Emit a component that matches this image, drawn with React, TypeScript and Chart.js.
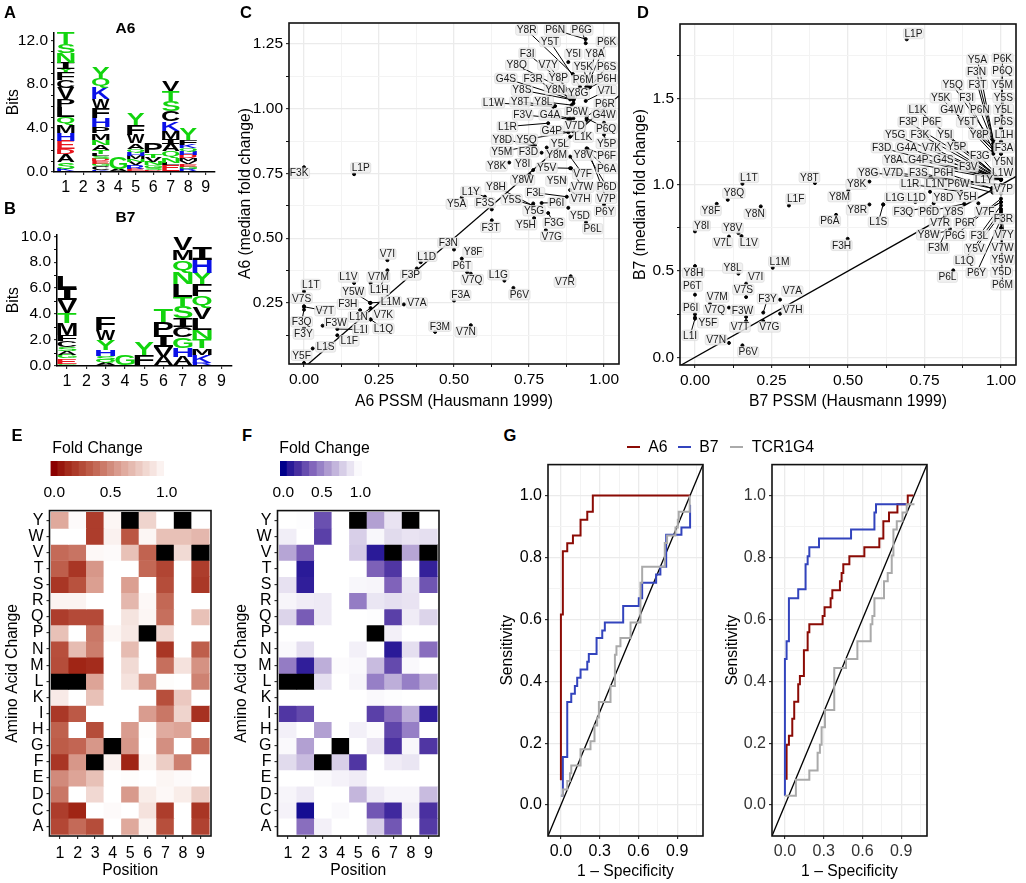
import React, { useEffect, useRef } from "react";
import { Chart, registerables } from "chart.js";

Chart.register(...registerables);
Chart.defaults.font.family = "'Liberation Sans', Arial, sans-serif";
Chart.defaults.color = "#000";

// ---------- data ----------
const positions = [1, 2, 3, 4, 5, 6, 7, 8, 9];
const aminoRows = ["A", "C", "D", "E", "F", "G", "H", "I", "K", "L", "M", "N", "P", "Q", "R", "S", "T", "V", "W", "Y"];

// logo stacks, bottom to top, one entry per position
const logoLettersA = ["KSADEHMQLPVCFYINST", "", "KCGEDSLTANMPHFWKQY", "AG", "ERVNMHQAWFY", "DSGNVTP", "ELNQAIMKCSTV", "RGEVMDHQKFY", ""];
const logoBitsA = [
  [0.3, 0.6, 0.75, 0.45, 0.75, 0.7, 0.75, 0.7, 0.9, 0.75, 1.0, 0.75, 0.7, 0.3, 0.55, 0.9, 0.8, 1.0],
  [],
  [0.2, 0.3, 0.27, 0.2, 0.25, 0.25, 0.2, 0.3, 0.5, 0.45, 0.6, 0.55, 0.85, 0.9, 0.8, 1.0, 0.9, 1.05],
  [0.3, 1.05],
  [0.3, 0.3, 0.3, 0.25, 0.3, 0.35, 0.3, 0.5, 0.75, 0.95, 1.0],
  [0.2, 0.2, 0.2, 0.3, 0.4, 0.4, 0.9],
  [0.6, 0.25, 0.5, 0.55, 0.65, 0.5, 0.7, 0.85, 0.95, 0.95, 0.9, 0.95],
  [0.25, 0.25, 0.25, 0.25, 0.25, 0.3, 0.3, 0.3, 0.3, 0.5, 1.0],
  [],
];
const logoLettersB = ["GEGASCFMTVIL", "", "AQSHYWF", "G", "FY", "AVIPT", "AHGCISTLNQMV", "RKMTNLVQFYHI", ""];
const logoBitsB = [
  [0.15, 0.43, 0.25, 0.33, 0.3, 0.46, 0.5, 0.9, 0.76, 1.02, 0.9, 0.9],
  [],
  [0.25, 0.2, 0.3, 0.46, 0.76, 0.8, 0.97],
  [0.84],
  [0.85, 1.0],
  [0.7, 0.76, 0.9, 1.0, 1.0],
  [0.7, 0.7, 0.8, 0.8, 0.7, 0.95, 0.7, 1.0, 0.85, 0.95, 0.8, 1.0],
  [0.25, 0.6, 0.5, 0.7, 0.7, 0.85, 0.9, 0.9, 0.9, 0.85, 1.05, 0.95],
  [],
];

const a6Points: [string, number, number][] = [
  ["Y8R", 0.896, 1.134], ["P6N", 0.939, 1.269], ["P6G", 0.939, 1.253], ["Y5T", 0.92, 1.085], ["P6K", 0.942, 1.085],
  ["F3I", 0.853, 1.111], ["Y5I", 0.881, 1.18], ["Y8A", 0.942, 1.085], ["Y8Q", 0.87, 1.072], ["V7Y", 0.898, 1.047],
  ["Y5K", 0.948, 1.083], ["P6S", 0.953, 1.083], ["G4S", 0.898, 1.034], ["F3R", 0.881, 1.047], ["Y8P", 0.887, 1.047],
  ["P6M", 0.942, 1.083], ["P6H", 0.948, 1.079], ["Y8S", 0.887, 1.036], ["Y8N", 0.898, 1.034], ["Y8G", 0.898, 1.021],
  ["V7L", 0.939, 1.03], ["L1W", 0.831, 1.008], ["Y8T", 0.837, 1.01], ["Y8L", 0.892, 1.014], ["P6R", 0.942, 0.97],
  ["P6W", 0.898, 0.963], ["F3V", 0.881, 0.96], ["G4A", 0.887, 0.963], ["G4W", 1, 0.946], ["L1R", 0.814, 0.944],
  ["V7D", 0.887, 0.957], ["P6Q", 0.942, 0.963], ["G4P", 0.881, 0.909], ["Y5Q", 0.898, 0.912], ["Y8D", 0.764, 0.86],
  ["L1K", 0.942, 0.956], ["Y5P", 1, 0.9], ["Y5L", 0.887, 0.892], ["Y5M", 0.77, 0.86], ["F3D", 0.792, 0.83],
  ["Y8M", 0.809, 0.85], ["Y8V", 0.942, 0.847], ["P6F", 0.945, 0.845], ["Y8K", 0.684, 0.792], ["Y8I", 0.764, 0.763],
  ["Y5V", 0.887, 0.77], ["P6A", 0.942, 0.84], ["V7F", 0.887, 0.815], ["F3K", 0, 0.774], ["L1P", 0.167, 0.747],
  ["Y8W", 0.753, 0.744], ["Y5N", 0.87, 0.727], ["Y8H", 0.764, 0.625], ["V7W", 0.89, 0.77], ["P6D", 0.942, 0.83],
  ["L1Y", 0.603, 0.66], ["F3L", 0.876, 0.66], ["Y5S", 0.764, 0.627], ["V7H", 0.887, 0.686], ["V7P", 0.95, 0.83],
  ["F3S", 0.626, 0.611], ["Y5A", 0.526, 0.657], ["P6I", 0.792, 0.636], ["Y5G", 0.764, 0.634], ["P6Y", 1, 0.63],
  ["Y5D", 0.881, 0.617], ["F3G", 0.814, 0.597], ["Y5H", 0.767, 0.578], ["F3T", 0.626, 0.569], ["P6L", 0.94, 0.561],
  ["V7G", 0.806, 0.531], ["F3N", 0.5, 0.456], ["Y8F", 0.526, 0.421], ["V7I", 0.278, 0.415], ["L1D", 0.389, 0.407],
  ["P6T", 0.544, 0.368], ["F3P", 0.376, 0.383], ["V7M", 0.222, 0.327], ["V7Q", 0.556, 0.363], ["L1V", 0.167, 0.327],
  ["L1G", 0.668, 0.336], ["V7R", 0.889, 0.353], ["L1T", 0, 0.294], ["Y5W", 0.222, 0.25], ["L1H", 0.278, 0.376],
  ["V7S", 0, 0.237], ["F3A", 0.5, 0.259], ["P6V", 0.698, 0.308], ["F3H", 0.187, 0.222], ["L1M", 0.22, 0.25],
  ["V7A", 0.333, 0.244], ["V7T", 0, 0.235], ["L1N", 0.222, 0.23], ["V7K", 0.222, 0.186], ["F3Q", 0, 0.224],
  ["F3W", 0.062, 0.162], ["L1I", 0.111, 0.149], ["L1Q", 0.222, 0.186], ["F3M", 0.437, 0.138], ["V7N", 0.556, 0.164],
  ["F3Y", 0, 0.153], ["L1F", 0.111, 0.125], ["L1S", 0.029, 0.074], ["Y5F", 0, 0.018],
];
const a6LabelSpots: Record<string, [number, number]> = {
  Y8R: [0.742, 1.304], P6N: [0.837, 1.304], P6G: [0.926, 1.304], Y5T: [0.82, 1.259], P6K: [1.009, 1.259],
  F3I: [0.744, 1.214], Y5I: [0.898, 1.211], Y8A: [0.97, 1.211], Y8Q: [0.709, 1.169], V7Y: [0.814, 1.169],
  Y5K: [0.931, 1.162], P6S: [1.009, 1.162], G4S: [0.673, 1.117], F3R: [0.764, 1.117], Y8P: [0.848, 1.121],
  P6M: [0.931, 1.111], P6H: [1.009, 1.114], Y8S: [0.726, 1.072], Y8N: [0.837, 1.075], Y8G: [0.914, 1.06],
  V7L: [1.009, 1.07], L1W: [0.631, 1.023], Y8T: [0.72, 1.027], Y8L: [0.798, 1.027], P6R: [1.003, 1.018],
  P6W: [0.909, 0.989], F3V: [0.729, 0.976], G4A: [0.82, 0.976], G4W: [1.0, 0.976], L1R: [0.678, 0.931],
  V7D: [0.903, 0.933], P6Q: [1.007, 0.924], G4P: [0.826, 0.915], Y8D: [0.661, 0.882], Y5Q: [0.742, 0.882],
  L1K: [0.931, 0.89], Y5P: [1.009, 0.866], Y5L: [0.853, 0.866], Y5M: [0.659, 0.834], F3D: [0.748, 0.834],
  Y8M: [0.842, 0.821], Y8V: [0.931, 0.821], P6F: [1.009, 0.818], Y8K: [0.642, 0.779], Y8I: [0.729, 0.787],
  Y5V: [0.809, 0.772], P6A: [1.009, 0.77], V7F: [0.929, 0.748], F3K: [-0.016, 0.751], L1P: [0.189, 0.772],
  Y8W: [0.729, 0.725], Y5N: [0.842, 0.721], Y8H: [0.64, 0.699], V7W: [0.927, 0.697], P6D: [1.009, 0.699],
  L1Y: [0.556, 0.68], F3L: [0.77, 0.676], Y5S: [0.692, 0.65], V7H: [0.922, 0.652], V7P: [1.007, 0.654],
  F3S: [0.603, 0.637], Y5A: [0.509, 0.632], P6I: [0.842, 0.637], Y5G: [0.767, 0.606], P6Y: [1.003, 0.604],
  Y5D: [0.92, 0.587], F3G: [0.833, 0.559], Y5H: [0.74, 0.552], F3T: [0.622, 0.542], P6L: [0.962, 0.536],
  V7G: [0.826, 0.507], F3N: [0.481, 0.482], Y8F: [0.564, 0.446], V7I: [0.278, 0.439], L1D: [0.409, 0.43],
  P6T: [0.526, 0.392], F3P: [0.356, 0.358], V7M: [0.248, 0.35], V7Q: [0.561, 0.34], L1V: [0.148, 0.35],
  L1G: [0.648, 0.359], V7R: [0.87, 0.33], L1T: [0.023, 0.321], Y5W: [0.164, 0.292], L1H: [0.251, 0.301],
  V7S: [-0.008, 0.268], F3A: [0.522, 0.28], P6V: [0.718, 0.282], F3H: [0.146, 0.245], L1M: [0.289, 0.255],
  V7A: [0.376, 0.25], V7T: [0.07, 0.22], L1N: [0.182, 0.196], V7K: [0.265, 0.205], F3Q: [-0.008, 0.177],
  F3W: [0.107, 0.173], L1I: [0.189, 0.147], L1Q: [0.265, 0.151], F3M: [0.453, 0.16], V7N: [0.54, 0.138],
  F3Y: [-0.002, 0.13], L1F: [0.151, 0.103], L1S: [0.072, 0.08], Y5F: [-0.008, 0.048],
};

const b7Points: [string, number, number][] = [
  ["L1P", 0.692, 1.844], ["L1T", 0.155, 1.006], ["Y8T", 0.392, 1.01], ["Y8K", 0.57, 1.019], ["Y8M", 0.501, 0.967],
  ["Y8Q", 0.107, 0.913], ["Y8F", 0.071, 0.89], ["L1F", 0.307, 0.88], ["Y8N", 0.215, 0.875], ["Y8R", 0.57, 0.886],
  ["L1S", 0.615, 0.886], ["P6A", 0.461, 0.826], ["F3H", 0.499, 0.687], ["Y8I", 0, 0.73], ["Y8V", 0.142, 0.72],
  ["V7L", 0.111, 0.7], ["L1V", 0.152, 0.703], ["L1M", 0.254, 0.519], ["Y8H", 0, 0.529], ["Y8L", 0.142, 0.485],
  ["V7I", 0.167, 0.427], ["P6T", 0, 0.363], ["V7S", 0.167, 0.349], ["V7A", 0.278, 0.334], ["V7M", 0.049, 0.311],
  ["F3Y", 0.223, 0.259], ["V7Q", 0.111, 0.288], ["P6I", 0, 0.249], ["F3W", 0.167, 0.234], ["Y5F", 0, 0.23],
  ["V7H", 0.278, 0.253], ["V7T", 0.167, 0.21], ["V7G", 0.223, 0.21], ["L1I", 0, 0.224], ["V7N", 0.111, 0.083],
  ["P6V", 0.155, 0.069], ["P6L", 0.844, 0.504], ["P6K", 1, 1.33], ["P6Q", 1, 1.33], ["Y5A", 0.975, 1.26],
  ["F3N", 0.975, 1.26], ["Y5M", 1, 1.25], ["Y5S", 1, 1.25], ["Y5L", 1, 1.33], ["P6S", 1, 1.33],
  ["L1H", 1, 1.25], ["F3A", 1, 1.18], ["Y5N", 1, 1.18], ["F3T", 0.975, 1.24], ["Y5Q", 0.975, 1.24],
  ["Y5K", 0.975, 1.2], ["F3I", 0.975, 1.2], ["P6N", 0.975, 1.24], ["Y5T", 0.975, 1.2], ["Y8P", 0.975, 1.22],
  ["G4W", 0.975, 1.18], ["L1K", 1, 1.03], ["F3P", 1, 1.03], ["P6F", 1, 1.03], ["Y5I", 1, 1.03],
  ["Y5G", 1, 1.03], ["F3K", 1, 1.03], ["F3D", 1, 1.03], ["G4A", 1, 1.03], ["V7K", 1, 1.03],
  ["Y5P", 1, 1.03], ["Y8A", 1, 1.03], ["G4P", 1, 1.03], ["G4S", 1, 1.03], ["F3G", 1, 1.03],
  ["Y8G", 1, 1.0], ["V7D", 1, 1.0], ["F3S", 0.97, 0.98], ["P6H", 0.97, 0.98], ["F3V", 1, 1.03],
  ["L1W", 1, 1.03], ["L1Y", 1, 1.03], ["L1R", 0.87, 0.96], ["L1N", 0.768, 0.96], ["P6W", 0.973, 0.955],
  ["V7P", 1, 0.95], ["L1G", 0.615, 0.886], ["L1D", 0.72, 0.9], ["Y8D", 0.78, 0.893], ["Y5H", 0.926, 0.893],
  ["F3Q", 0.77, 0.87], ["P6D", 0.88, 0.89], ["Y8S", 0.817, 0.822], ["V7F", 1, 0.9], ["V7R", 0.833, 0.745],
  ["P6R", 1, 0.9], ["Y8W", 0.833, 0.735], ["P6G", 1, 0.92], ["F3L", 1, 0.88], ["V7Y", 1, 0.86],
  ["V7W", 1, 0.82], ["Y5W", 1, 0.8], ["Y5D", 1, 0.78], ["P6M", 1, 0.75], ["F3R", 1, 0.84],
  ["Y5V", 1, 0.83], ["L1Q", 1, 0.85], ["P6Y", 1, 0.8], ["F3M", 0.82, 0.73],
];
const b7LabelSpots: Record<string, [number, number]> = {
  L1P: [0.714, 1.878], Y5A: [0.923, 1.728], P6K: [1.005, 1.734], F3N: [0.92, 1.656], P6Q: [1.005, 1.66],
  Y5Q: [0.842, 1.579], F3T: [0.923, 1.583], Y5M: [1.005, 1.583], Y5K: [0.803, 1.506], F3I: [0.888, 1.506],
  Y5S: [1.008, 1.506], L1K: [0.727, 1.438], G4W: [0.839, 1.438], P6N: [0.931, 1.434], Y5L: [1.008, 1.438],
  F3P: [0.697, 1.365], P6F: [0.773, 1.365], Y5T: [0.888, 1.365], P6S: [1.008, 1.365], Y5G: [0.654, 1.29],
  F3K: [0.735, 1.293], Y5I: [0.817, 1.293], Y8P: [0.929, 1.293], L1H: [1.01, 1.29], F3D: [0.61, 1.216],
  G4A: [0.692, 1.216], V7K: [0.773, 1.216], Y5P: [0.855, 1.222], F3A: [1.01, 1.216], F3G: [0.931, 1.167],
  Y8A: [0.648, 1.145], G4P: [0.73, 1.145], G4S: [0.812, 1.145], Y5N: [1.008, 1.135], F3V: [0.893, 1.106],
  Y8G: [0.566, 1.071], V7D: [0.648, 1.071], F3S: [0.73, 1.071], P6H: [0.812, 1.071], L1W: [1.005, 1.073],
  L1T: [0.176, 1.043], Y8T: [0.374, 1.044], L1Y: [0.944, 1.029], Y8K: [0.528, 1.004], L1R: [0.703, 1.004],
  L1N: [0.784, 1.004], P6W: [0.861, 1.004], V7P: [1.008, 0.975], Y8Q: [0.127, 0.952], Y8M: [0.472, 0.932],
  L1G: [0.654, 0.927], L1D: [0.724, 0.927], Y8D: [0.812, 0.927], Y5H: [0.888, 0.932], L1F: [0.329, 0.919],
  Y8F: [0.052, 0.851], Y8N: [0.196, 0.832], Y8R: [0.53, 0.855], F3Q: [0.681, 0.847], P6D: [0.765, 0.847],
  Y8S: [0.846, 0.847], V7F: [0.948, 0.847], P6A: [0.441, 0.79], L1S: [0.599, 0.784], F3R: [1.008, 0.803],
  V7R: [0.801, 0.778], P6R: [0.882, 0.778], Y8I: [0.022, 0.764], Y8V: [0.123, 0.751], Y8W: [0.763, 0.71],
  P6G: [0.85, 0.707], F3L: [0.929, 0.707], V7Y: [1.01, 0.71], V7L: [0.09, 0.664], L1V: [0.176, 0.664],
  F3H: [0.479, 0.649], F3M: [0.795, 0.633], Y5V: [0.915, 0.629], V7W: [1.005, 0.635], L1M: [0.276, 0.556],
  L1Q: [0.88, 0.562], Y5W: [1.005, 0.566], Y8L: [0.123, 0.517], Y8H: [-0.005, 0.49], P6Y: [0.92, 0.49],
  Y5D: [1.002, 0.494], P6L: [0.825, 0.465], V7I: [0.198, 0.465], P6T: [-0.009, 0.413], P6M: [1.005, 0.421],
  V7S: [0.158, 0.392], V7A: [0.318, 0.384], V7M: [0.073, 0.349], F3Y: [0.237, 0.34], P6I: [-0.014, 0.288],
  V7Q: [0.065, 0.276], F3W: [0.155, 0.272], V7H: [0.319, 0.278], Y5F: [0.042, 0.201], V7T: [0.147, 0.176],
  V7G: [0.243, 0.176], L1I: [-0.016, 0.127], V7N: [0.069, 0.102], P6V: [0.174, 0.031],
};

// rows in aminoRows order reversed for reading: top row first
const foldChangeRowsTopDown = ["Y", "W", "V", "T", "S", "R", "Q", "P", "N", "M", "L", "K", "I", "H", "G", "F", "E", "D", "C", "A"];
const foldChangeA6: (number | null)[][] = [
  [0.62, 0.98, 0.2, 0.96, null, 0.8, 1, null, 1],
  [1, 1, 0.2, 0.94, 0.3, 0.96, 0.72, 0.72, 0.68],
  [0.38, 0.42, 0.97, 0.98, 0.72, 0.35, null, 0.83, null],
  [0.33, 0.17, 0.55, 1, 1, 0.37, 0.23, 1, 0.2],
  [0.17, 0.28, 0.58, 1, 0.58, 1, 0.26, 1, 0.18],
  [0.95, 0.95, 1, 1, 0.68, 0.97, 0.37, 1, 1],
  [0.2, 0.25, 0.25, 1, 0.88, 0.96, 0.4, 1, 0.72],
  [0.72, 1, 0.43, 0.96, 0.9, null, 0.82, 1, 1],
  [0.27, 0.7, 0.45, 1, 0.7, 1, 0.17, 1, 0.33],
  [0.26, 0.1, 0.13, 1, 0.83, 1, 0.4, 0.87, 0.53],
  [null, null, 0.6, 1, 0.87, 0.55, 0.99, 1, 0.47],
  [0.91, 1, 0.72, 1, 1, 1, 0.27, 0.75, 1],
  [0.18, 0.31, 1, 1, 1, 0.57, 0.43, 0.8, 0.15],
  [0.34, 1, 0.26, 1, 0.57, 0.99, 0.63, 0.6, 1],
  [0.32, 0.36, 0.55, null, 0.55, 1, 0.52, 1, 0.38],
  [0.17, 0.55, null, 0.94, 0.1, 0.96, 0.77, 0.46, 1],
  [0.5, 0.6, 0.72, 1, 0.99, 1, 0.96, 0.98, 1],
  [0.43, 1, 0.82, 1, 0.56, 0.92, 0.97, 0.92, 0.77],
  [0.2, 0.1, 1, 0.98, 1, 0.87, 0.2, 1, 0.17],
  [0.24, 0.38, 0.26, 1, 0.62, 0.95, 0.27, 1, 0.22],
];
const foldChangeB7: (number | null)[][] = [
  [1, 0.99, 0.3, 1, null, 0.6, 0.87, null, 1],
  [0.92, 1, 0.25, 1, 0.78, 0.96, 0.83, 0.87, 0.85],
  [0.62, 0.35, 1, 1, 0.76, 0.1, null, 0.62, null],
  [1, 0.1, 1, 1, 1, 0.37, 0.22, 1, 0.13],
  [0.86, 0.12, 1, 1, 0.96, 0.95, 0.38, 0.88, 0.32],
  [0.95, 0.91, 0.9, 1, 0.47, 0.88, 0.85, 0.87, 1],
  [0.8, 0.35, 0.9, 1, 1, 0.99, 0.25, 0.91, 0.8],
  [1, 1, 1, 1, 1, null, 0.93, 1, 1],
  [0.97, 0.85, 1, 1, 0.93, 1, 0.1, 0.85, 0.42],
  [0.47, 0.12, 0.65, 0.98, 0.97, 0.7, 0.28, 0.97, 1],
  [null, null, 0.85, 1, 0.95, 0.48, 0.65, 0.48, 0.63],
  [1, 1, 1, 1, 1, 0.97, 0.99, 1, 1],
  [0.22, 0.28, 1, 1, 1, 0.25, 0.42, 0.65, 0.12],
  [0.93, 1, 0.6, 1, 0.93, 0.98, 0.27, 0.48, 1],
  [0.97, 0.6, 1, null, 1, 0.87, 0.2, 0.96, 0.22],
  [0.83, 0.7, null, 0.78, 0.22, 1, 0.91, 0.88, 1],
  [1, 1, 0.97, 0.94, 0.91, 1, 1, 1, 1],
  [0.95, 0.9, 1, 1, 0.68, 0.9, 0.95, 0.95, 0.7],
  [0.94, 0.05, 1, 0.97, 1, 0.33, 0.17, 0.92, 0.2],
  [1, 0.42, 0.93, 1, 1, 0.78, 0.33, 1, 0.23],
];
const colorbarLevelsE = [0, 0.063, 0.126, 0.189, 0.252, 0.315, 0.378, 0.441, 0.504, 0.567, 0.63, 0.693, 0.756, 0.819, 0.882, 0.945];
const colorbarLevelsF = [0, 0.097, 0.194, 0.291, 0.388, 0.485, 0.582, 0.679, 0.776, 0.873, 0.97];

// ROC step corners: [1 - specificity, sensitivity]
const rocLeftA6: [number, number][] = [[0, 0.08], [0, 0.616], [0.015, 0.82], [0.049, 0.846], [0.093, 0.871], [0.152, 0.922], [0.204, 0.948], [0.247, 1], [1, 1]];
const rocLeftB7: [number, number][] = [[0, 0.03], [0.015, 0.155], [0.049, 0.333], [0.08, 0.36], [0.108, 0.385], [0.126, 0.411], [0.152, 0.438], [0.204, 0.463], [0.216, 0.488], [0.276, 0.54], [0.32, 0.564], [0.34, 0.59], [0.482, 0.643], [0.603, 0.668], [0.629, 0.718], [0.737, 0.745], [0.77, 0.77], [0.815, 0.795], [0.815, 0.873], [0.933, 0.897], [1, 0.97]];
const rocLeftTcr: [number, number][] = [[0, 0.03], [0.015, 0.05], [0.049, 0.078], [0.07, 0.103], [0.08, 0.128], [0.152, 0.18], [0.229, 0.206], [0.26, 0.257], [0.281, 0.283], [0.294, 0.333], [0.384, 0.385], [0.418, 0.486], [0.43, 0.513], [0.461, 0.54], [0.539, 0.59], [0.616, 0.64], [0.616, 0.718], [0.629, 0.77], [0.804, 0.795], [0.804, 0.847], [0.822, 0.871], [0.887, 0.897], [0.905, 0.922], [0.912, 0.948], [0.997, 1]];
const rocRightA6: [number, number][] = [[0.013, 0.082], [0.013, 0.195], [0.031, 0.224], [0.057, 0.279], [0.072, 0.334], [0.103, 0.39], [0.116, 0.417], [0.147, 0.5], [0.176, 0.558], [0.189, 0.584], [0.292, 0.611], [0.307, 0.639], [0.354, 0.668], [0.367, 0.694], [0.426, 0.723], [0.439, 0.75], [0.452, 0.778], [0.499, 0.804], [0.615, 0.833], [0.731, 0.861], [0.762, 0.917], [0.806, 0.945], [0.871, 0.972], [0.951, 1], [0.995, 1]];
const rocRightB7: [number, number][] = [[0, 0.03], [0, 0.472], [0.013, 0.529], [0.031, 0.668], [0.103, 0.697], [0.16, 0.778], [0.176, 0.804], [0.189, 0.833], [0.264, 0.861], [0.512, 0.89], [0.693, 0.945], [0.705, 0.972], [0.943, 0.972]];
const rocRightTcr: [number, number][] = [[0, 0.03], [0.085, 0.082], [0.189, 0.112], [0.253, 0.169], [0.271, 0.195], [0.284, 0.251], [0.31, 0.307], [0.382, 0.443], [0.473, 0.472], [0.561, 0.529], [0.664, 0.584], [0.677, 0.611], [0.693, 0.668], [0.767, 0.723], [0.796, 0.75], [0.827, 0.806], [0.84, 0.89], [0.866, 0.917], [0.91, 0.945], [0.943, 0.972], [1.003, 0.972]];
const identityLine: [number, number][] = [[-0.1, -0.1], [1.1, 1.1]];

// axis ticks
const pssmMajor = [0, 0.25, 0.5, 0.75, 1];
const pssmMinor = [0.125, 0.375, 0.625, 0.875];
const a6YMajor = [0.25, 0.5, 0.75, 1, 1.25];
const a6YMinor = [0.125, 0.375, 0.625, 0.875, 1.125];
const b7YMajor = [0, 0.5, 1, 1.5];
const b7YMinor = [0.25, 0.75, 1.25, 1.75];
const rocXMajor = [0, 0.3, 0.6, 0.9];
const rocXMinor = [0.15, 0.45, 0.75, 1.05];
const rocYMajor = [0, 0.2, 0.4, 0.6, 0.8, 1];
const rocYMinor = [0.1, 0.3, 0.5, 0.7, 0.9];
const logoAYMajor = [0, 4, 8, 12];
const logoAYMinor = [1, 2, 3, 5, 6, 7, 9, 10, 11];
const logoBYMajor = [0, 2, 4, 6, 8, 10];
const logoBYMinor = [1, 3, 5, 7, 9];
const colorbarTicks = [0, 0.5, 1];

// ---------- helpers ----------
const SANS = "'Liberation Sans', Arial, sans-serif";
const redStops = ["#8b0000", "#a02515", "#ad3d2c", "#bb5743", "#c66f5d", "#d18a7b", "#dda497", "#e6bcb2", "#efd4cd", "#f7e8e4", "#ffffff"];
const purpleStops = ["#00008b", "#2a1a98", "#4a30a0", "#6a50b0", "#8568bc", "#9a85c8", "#b2a0d2", "#c8bbdf", "#dcd4ea", "#eeeaf5", "#ffffff"];

function ramp(stops: string[], v: number | null) {
  if (v === null) return "#000000";
  const t = Math.max(0, Math.min(1, v)) * (stops.length - 1);
  const i = Math.min(stops.length - 2, Math.floor(t));
  const f = t - i;
  const rgb = (s: string) => [1, 3, 5].map((k) => parseInt(s.slice(k, k + 2), 16));
  const a = rgb(stops[i]);
  const b = rgb(stops[i + 1]);
  return `rgb(${a.map((c, k) => Math.round(c + (b[k] - c) * f)).join(",")})`;
}

type Box = { l: number; t: number; r: number; b: number };

function fixedLayout(canvasBox: Box, plot: Box) {
  return {
    padding: { top: plot.t - canvasBox.t, right: canvasBox.r - plot.r, left: 0, bottom: 0 },
  };
}

function axis(o: any) {
  const values = [...o.major, ...(o.minor || [])].sort((a: number, b: number) => a - b);
  const isMajor = (v: number | undefined) => v !== undefined && o.major.some((m: number) => Math.abs(m - v) < 1e-6);
  return {
    type: "linear",
    bounds: "data",
    offset: false,
    min: o.min,
    max: o.max,
    afterBuildTicks: (s: any) => {
      s.ticks = values.map((value: number) => ({ value }));
    },
    afterFit: (s: any) => {
      if (o.size !== undefined) {
        if (s.isHorizontal()) s.height = o.size;
        else s.width = o.size;
      }
    },
    border: { display: !!o.axisLine, color: "#000", width: 1.5 },
    grid: {
      display: true,
      offset: false,
      drawOnChartArea: !!o.gridlines,
      drawTicks: true,
      tickLength: o.tickLength ?? 3,
      color: (c: any) => (isMajor(c.tick?.value) ? "#ebebeb" : "#f3f3f3"),
      lineWidth: (c: any) => (isMajor(c.tick?.value) ? 1.3 : 1),
      tickColor: (c: any) => (isMajor(c.tick?.value) || o.minorTicks ? "#111" : "rgba(0,0,0,0)"),
      tickWidth: 1,
    },
    ticks: {
      autoSkip: false,
      maxRotation: 0,
      minRotation: 0,
      padding: o.padding ?? 3,
      color: o.tickColor ?? "#000",
      font: { size: o.font ?? 15.5 },
      callback: (v: number) => (isMajor(v) ? (o.fmt ? o.fmt(v) : v.toFixed(o.digits ?? 1)) : ""),
    },
    title: o.title
      ? { display: true, text: o.title, color: "#000", padding: 0, font: { size: 15.7 } }
      : { display: false },
  };
}

const panelBorder = {
  id: "panelBorder",
  afterDraw(chart: any) {
    const { ctx, chartArea: a } = chart;
    ctx.save();
    ctx.strokeStyle = "#111";
    ctx.lineWidth = 1.6;
    ctx.strokeRect(a.left, a.top, a.right - a.left, a.bottom - a.top);
    ctx.restore();
  },
};

function repelLabels(points: [string, number, number][], spots: Record<string, [number, number]>) {
  return {
    id: "repelLabels",
    afterDatasetsDraw(chart: any) {
      const { ctx, scales } = chart;
      const { x, y } = scales;
      ctx.save();
      ctx.font = `10.2px ${SANS}`;
      const boxes = points.map(([name, px, py]) => {
        const spot = spots[name];
        const w = ctx.measureText(name).width + 2;
        return {
          name,
          px: x.getPixelForValue(px),
          py: y.getPixelForValue(py),
          lx: x.getPixelForValue(spot[0]),
          ly: y.getPixelForValue(spot[1]),
          w,
          h: 10.5,
        };
      });
      ctx.strokeStyle = "#000";
      ctx.lineWidth = 1;
      boxes.forEach((b) => {
        const gapX = Math.abs(b.px - b.lx) - b.w / 2;
        const gapY = Math.abs(b.py - b.ly) - b.h / 2;
        if (Math.max(gapX, gapY) > 3.5) {
          ctx.beginPath();
          ctx.moveTo(b.px, b.py);
          ctx.lineTo(b.lx, b.ly);
          ctx.stroke();
        }
      });
      boxes.forEach((b) => {
        ctx.beginPath();
        ctx.roundRect(b.lx - b.w / 2, b.ly - b.h / 2, b.w, b.h, 2);
        ctx.fillStyle = "rgba(238,238,238,0.85)";
        ctx.fill();
        ctx.strokeStyle = "rgba(215,215,215,0.9)";
        ctx.lineWidth = 0.7;
        ctx.stroke();
        ctx.fillStyle = "#1a1a1a";
        ctx.textAlign = "center";
        ctx.textBaseline = "middle";
        ctx.fillText(b.name, b.lx, b.ly + 0.5);
      });
      ctx.restore();
    },
  };
}

function letterColor(l: string) {
  if ("GSTYQN".includes(l)) return "#12d40e";
  if ("KHR".includes(l)) return "#0a10e8";
  if ("DE".includes(l)) return "#e8141c";
  return "#000000";
}

function logoPlugin(letters: string[]) {
  return {
    id: "logoLetters",
    afterDatasetsDraw(chart: any) {
      const ctx = chart.ctx;
      chart.data.datasets.forEach((_: any, di: number) => {
        const meta = chart.getDatasetMeta(di);
        meta.data.forEach((bar: any, pi: number) => {
          const letter = letters[pi][di];
          if (!letter) return;
          const h = Math.abs(bar.base - bar.y);
          const top = Math.min(bar.base, bar.y);
          const w = bar.width;
          ctx.save();
          ctx.font = letter === "I" ? "bold 100px 'DejaVu Sans Mono'" : `bold 100px ${SANS}`;
          ctx.textAlign = "left";
          ctx.textBaseline = "alphabetic";
          const m = ctx.measureText(letter);
          const gw = m.actualBoundingBoxLeft + m.actualBoundingBoxRight;
          const gh = m.actualBoundingBoxAscent + m.actualBoundingBoxDescent;
          ctx.translate(bar.x - w / 2, top);
          ctx.scale(w / gw, h / gh);
          ctx.fillStyle = letterColor(letter);
          ctx.fillText(letter, m.actualBoundingBoxLeft, m.actualBoundingBoxAscent);
          ctx.restore();
        });
      });
    },
  };
}

function logoChart(canvas: HTMLCanvasElement, cb: Box, plot: Box, letters: string[], bits: number[][], xRange: number[], yMax: number, yMajor: number[], yMinor: number[], labelPad: number) {
  const depth = Math.max(...letters.map((s) => s.length));
  const datasets = Array.from({ length: depth }, (_, d) => ({
    data: positions.map((p, i) => ({ x: p, y: bits[i][d] ?? 0 })),
    backgroundColor: "rgba(0,0,0,0)",
    barPercentage: 1,
    categoryPercentage: 1,
  }));
  return new Chart(canvas, {
    type: "bar",
    data: { datasets },
    plugins: [logoPlugin(letters)],
    options: {
      animation: false,
      responsive: false,
      layout: fixedLayout(cb, plot),
      plugins: { legend: { display: false }, tooltip: { enabled: false } },
      scales: {
        x: { ...axis({ min: xRange[0], max: xRange[1], major: positions, size: cb.b - plot.b, axisLine: true, digits: 0, padding: labelPad, font: 16 }), stacked: true },
        y: { ...axis({ min: 0, max: yMax, major: yMajor, minor: yMinor, minorTicks: true, size: plot.l - cb.l, axisLine: true, digits: 1, title: "Bits" }), stacked: true },
      },
    },
  } as any);
}

function scatterChart(canvas: HTMLCanvasElement, cb: Box, plot: Box, points: [string, number, number][], spots: Record<string, [number, number]>, xRange: number[], yRange: number[], yMajor: number[], yMinor: number[], yDigits: number, xTitle: string, yTitle: string) {
  return new Chart(canvas, {
    type: "scatter",
    data: {
      datasets: [
        {
          data: xRange.map((v) => ({ x: v, y: v })),
          showLine: true,
          borderColor: "#000",
          borderWidth: 1.3,
          pointRadius: 0,
        },
        {
          data: points.map(([, x, y]) => ({ x, y })),
          showLine: false,
          backgroundColor: "#000",
          borderColor: "#000",
          pointRadius: 1.5,
        },
      ],
    },
    plugins: [repelLabels(points, spots), panelBorder],
    options: {
      animation: false,
      responsive: false,
      layout: fixedLayout(cb, plot),
      plugins: { legend: { display: false }, tooltip: { enabled: false } },
      scales: {
        x: axis({ min: xRange[0], max: xRange[1], major: pssmMajor, minor: pssmMinor, minorTicks: true, gridlines: true, digits: 2, size: cb.b - plot.b, title: xTitle }),
        y: axis({ min: yRange[0], max: yRange[1], major: yMajor, minor: yMinor, minorTicks: true, gridlines: true, digits: yDigits, size: plot.l - cb.l, title: yTitle }),
      },
    },
  } as any);
}

function heatChart(canvas: HTMLCanvasElement, cb: Box, plot: Box, table: (number | null)[][], stops: string[]) {
  const datasets = foldChangeRowsTopDown.map((row, ri) => {
    const rowValue = aminoRows.indexOf(row) + 1;
    return {
      label: row,
      data: positions.map((p) => ({ x: p, y: [rowValue - 0.5, rowValue + 0.5] })),
      backgroundColor: table[ri].map((v) => ramp(stops, v)),
      borderWidth: 0,
      barPercentage: 1,
      categoryPercentage: 1,
      grouped: false,
    };
  });
  return new Chart(canvas, {
    type: "bar",
    data: { datasets },
    plugins: [panelBorder],
    options: {
      animation: false,
      responsive: false,
      layout: fixedLayout(cb, plot),
      plugins: { legend: { display: false }, tooltip: { enabled: false } },
      scales: {
        x: axis({ min: 0.4, max: 9.6, major: positions, digits: 0, size: cb.b - plot.b, title: "Position", font: 16, padding: 5 }),
        y: axis({
          min: 0.4,
          max: 20.6,
          major: aminoRows.map((_, i) => i + 1),
          fmt: (v: number) => aminoRows[Math.round(v) - 1],
          size: plot.l - cb.l,
          title: "Amino Acid Change",
          font: 16,
        }),
      },
    },
  } as any);
}

function colorbarChart(canvas: HTMLCanvasElement, cb: Box, plot: Box, levels: number[], stops: string[], xRange: number[]) {
  return new Chart(canvas, {
    type: "bar",
    data: {
      datasets: [
        {
          data: levels.map((x) => ({ x, y: 1 })),
          backgroundColor: levels.map((v) => ramp(stops, v)),
          barPercentage: 1,
          categoryPercentage: 1,
        },
      ],
    },
    options: {
      animation: false,
      responsive: false,
      layout: { padding: { top: plot.t - cb.t, right: cb.r - plot.r, left: plot.l - cb.l, bottom: 0 } },
      plugins: { legend: { display: false }, tooltip: { enabled: false } },
      scales: {
        x: {
          ...axis({ min: xRange[0], max: xRange[1], major: colorbarTicks, digits: 1, size: cb.b - plot.b, padding: 7 }),
          grid: { display: false, drawTicks: false, offset: false },
          border: { display: false },
        },
        y: { display: false, min: 0, max: 1 },
      },
    },
  } as any);
}

const rocColors = { a6: "#8b0b05", b7: "#3344bd", tcr: "#aaaaaa" };

function rocChart(canvas: HTMLCanvasElement, cb: Box, plot: Box, tcr: [number, number][], b7: [number, number][], a6: [number, number][], tickColor: string) {
  const series = (pts: [number, number][], color: string) => ({
    data: pts.map(([x, y]) => ({ x, y })),
    showLine: true,
    stepped: "before",
    borderColor: color,
    borderWidth: 2,
    pointRadius: 0,
  });
  return new Chart(canvas, {
    type: "scatter",
    data: {
      datasets: [
        series(tcr, rocColors.tcr),
        series(b7, rocColors.b7),
        series(a6, rocColors.a6),
        {
          data: identityLine.map(([x, y]) => ({ x, y })),
          showLine: true,
          borderColor: "#000",
          borderWidth: 1.3,
          pointRadius: 0,
        },
      ],
    },
    plugins: [panelBorder],
    options: {
      animation: false,
      responsive: false,
      layout: fixedLayout(cb, plot),
      plugins: { legend: { display: false }, tooltip: { enabled: false } },
      scales: {
        x: axis({ min: -0.1, max: 1.1, major: rocXMajor, minor: rocXMinor, gridlines: true, digits: 1, size: cb.b - plot.b, title: "1 – Specificity", font: 16, padding: 3, tickColor }),
        y: axis({ min: -0.1, max: 1.1, major: rocYMajor, minor: rocYMinor, gridlines: true, digits: 1, size: plot.l - cb.l, title: "Sensitivity", font: 16, tickColor }),
      },
    },
  } as any);
}

// ---------- layout ----------
const frames: Record<string, { cb: Box; plot: Box }> = {
  logoA: { cb: { l: 4, t: 20, r: 226, b: 198 }, plot: { l: 54, t: 32, r: 214.5, b: 172 } },
  logoB: { cb: { l: 4, t: 222, r: 240, b: 392 }, plot: { l: 57, t: 233, r: 232, b: 366 } },
  c: { cb: { l: 236, t: 10, r: 630, b: 411 }, plot: { l: 289, t: 23, r: 619, b: 364 } },
  d: { cb: { l: 631, t: 10, r: 1026, b: 411 }, plot: { l: 680, t: 24, r: 1016, b: 365 } },
  e: { cb: { l: 3, t: 498, r: 222, b: 880 }, plot: { l: 49.5, t: 508, r: 211, b: 836 } },
  f: { cb: { l: 232, t: 498, r: 450, b: 880 }, plot: { l: 277.5, t: 508, r: 439, b: 836 } },
  g1: { cb: { l: 498, t: 452, r: 714, b: 881 }, plot: { l: 548, t: 462, r: 703, b: 836 } },
  g2: { cb: { l: 723, t: 452, r: 938, b: 881 }, plot: { l: 772, t: 462, r: 927, b: 836 } },
  cbE: { cb: { l: 36, t: 456, r: 190, b: 502 }, plot: { l: 50, t: 461, r: 164, b: 476 } },
  cbF: { cb: { l: 265, t: 456, r: 385, b: 502 }, plot: { l: 279, t: 461, r: 362, b: 476 } },
};

const canvasStyle = (cb: Box): React.CSSProperties => ({ position: "absolute", left: cb.l, top: cb.t, width: cb.r - cb.l, height: cb.b - cb.t });

function Txt({ x, y, children, size = 15.7, bold = false }: any) {
  return (
    <div
      style={{
        position: "absolute",
        left: x,
        top: y,
        transform: "translate(-50%,-50%)",
        fontFamily: SANS,
        fontSize: size,
        fontWeight: bold ? 700 : 400,
        lineHeight: 1,
        whiteSpace: "nowrap",
        color: "#000",
      }}
    >
      {children}
    </div>
  );
}

const legendEntries = [
  { name: "A6", color: rocColors.a6, lineX: 627, textX: 658 },
  { name: "B7", color: rocColors.b7, lineX: 678, textX: 709 },
  { name: "TCR1G4", color: rocColors.tcr, lineX: 730, textX: 783 },
];

export default function App() {
  const refs = useRef<Record<string, HTMLCanvasElement | null>>({});

  useEffect(() => {
    const r = refs.current as Record<string, HTMLCanvasElement>;
    const f = frames;
    const charts = [
      logoChart(r.logoA, f.logoA.cb, f.logoA.plot, logoLettersA, logoBitsA, [0.33, 9.5], 12.73, logoAYMajor, logoAYMinor, 3),
      logoChart(r.logoB, f.logoB.cb, f.logoB.plot, logoLettersB, logoBitsB, [0.48, 9.55], 10.15, logoBYMajor, logoBYMinor, 3),
      scatterChart(r.c, f.c.cb, f.c.plot, a6Points, a6LabelSpots, [-0.05, 1.05], [0.014, 1.331], a6YMajor, a6YMinor, 2, "A6 PSSM (Hausmann 1999)", "A6 (median fold change)"),
      scatterChart(r.d, f.d.cb, f.d.plot, b7Points, b7LabelSpots, [-0.049, 1.049], [-0.045, 1.933], b7YMajor, b7YMinor, 1, "B7 PSSM (Hausmann 1999)", "B7 (median fold change)"),
      heatChart(r.e, f.e.cb, f.e.plot, foldChangeA6, redStops),
      heatChart(r.f, f.f.cb, f.f.plot, foldChangeB7, purpleStops),
      rocChart(r.g1, f.g1.cb, f.g1.plot, rocLeftTcr, rocLeftB7, rocLeftA6, "#000"),
      rocChart(r.g2, f.g2.cb, f.g2.plot, rocRightTcr, rocRightB7, rocRightA6, "#333"),
      colorbarChart(r.cbE, f.cbE.cb, f.cbE.plot, colorbarLevelsE, redStops, [-0.035, 0.976]),
      colorbarChart(r.cbF, f.cbF.cb, f.cbF.plot, colorbarLevelsF, purpleStops, [-0.042, 1.02]),
    ];
    return () => charts.forEach((c) => c.destroy());
  }, []);

  return (
    <div style={{ position: "fixed", left: 0, top: 0, width: 1026, height: 883, background: "#fff", overflow: "hidden" }}>
      {Object.entries(frames).map(([key, { cb }]) => (
        <canvas
          key={key}
          ref={(el) => {
            refs.current[key] = el;
          }}
          width={cb.r - cb.l}
          height={cb.b - cb.t}
          style={canvasStyle(cb)}
        />
      ))}
      <Txt x={10} y={12} size={16.5} bold>A</Txt>
      <Txt x={10} y={208} size={16.5} bold>B</Txt>
      <Txt x={246} y={12} size={16.5} bold>C</Txt>
      <Txt x={643} y={12} size={16.5} bold>D</Txt>
      <Txt x={17} y={435} size={16.5} bold>E</Txt>
      <Txt x={247} y={435} size={16.5} bold>F</Txt>
      <Txt x={510} y={435} size={16.5} bold>G</Txt>
      <Txt x={125.5} y={28} size={15.5} bold>A6</Txt>
      <Txt x={125.5} y={217} size={15.5} bold>B7</Txt>
      <Txt x={97.5} y={448} size={15.8}>Fold Change</Txt>
      <Txt x={324.5} y={448} size={15.8}>Fold Change</Txt>
      {legendEntries.map((e) => (
        <React.Fragment key={e.name}>
          <div style={{ position: "absolute", left: e.lineX, top: 446, width: 13, height: 2, background: e.color }} />
          <Txt x={e.textX} y={447} size={15.8}>{e.name}</Txt>
        </React.Fragment>
      ))}
    </div>
  );
}
